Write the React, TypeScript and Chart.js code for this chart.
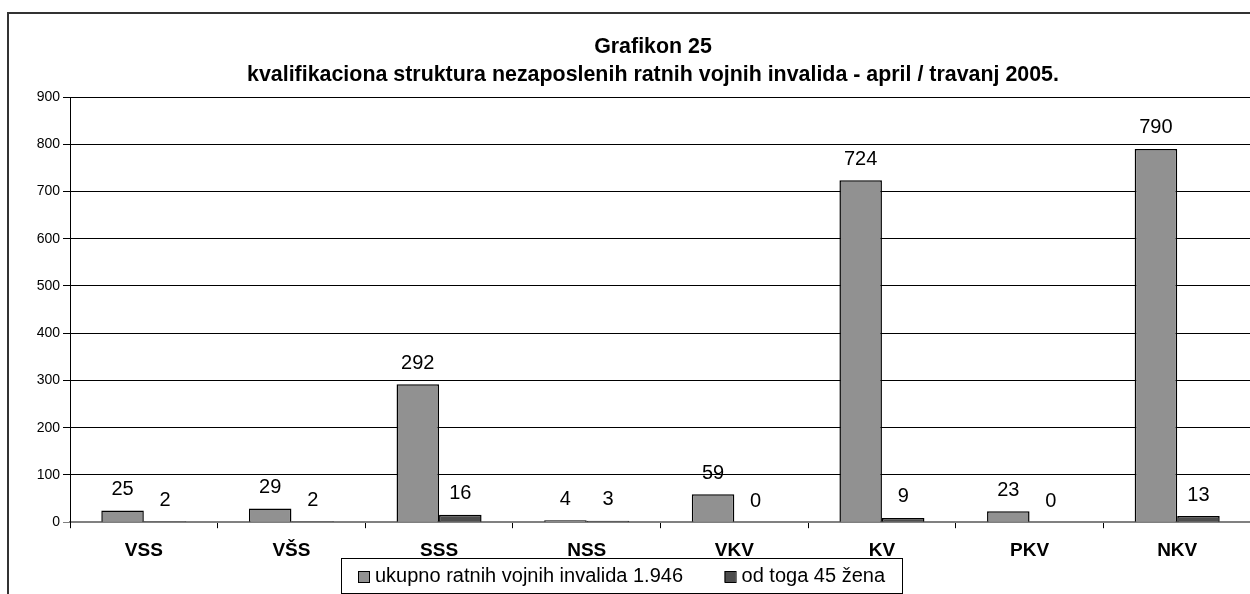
import React, { useEffect, useRef } from 'react';
import { Chart, registerables } from 'chart.js';

Chart.register(...registerables);

const categories = ['VSS', 'VŠS', 'SSS', 'NSS', 'VKV', 'KV', 'PKV', 'NKV'];
const totalValues = [25, 29, 292, 4, 59, 724, 23, 790];
const womenValues = [2, 2, 16, 3, 0, 9, 0, 13];
const seriesLabels = ['ukupno ratnih vojnih invalida 1.946', 'od toga 45 žena'];
const titleLines = [
  'Grafikon 25',
  'kvalifikaciona struktura nezaposlenih ratnih vojnih invalida - april / travanj 2005.',
];
const yMax = 900;
const yStep = 100;

const FONT = 'Arial, "Liberation Sans", sans-serif';
const GREY = '#919191';
const DARK = '#4d4d4d';
const CANVAS_W = 1270;

const titlePlugin = {
  id: 'fixedTitle',
  afterDraw(chart: any) {
    const ctx = chart.ctx;
    ctx.save();
    ctx.font = `bold 21.4px ${FONT}`;
    ctx.fillStyle = '#000';
    ctx.textAlign = 'center';
    ctx.textBaseline = 'middle';
    ctx.fillText(titleLines[0], 653, 47);
    ctx.fillText(titleLines[1], 653, 75);
    ctx.restore();
  },
};

const valueLabelPlugin = {
  id: 'valueLabels',
  afterDatasetsDraw(chart: any) {
    const ctx = chart.ctx;
    ctx.save();
    ctx.font = `20px ${FONT}`;
    ctx.fillStyle = '#000';
    ctx.textAlign = 'center';
    ctx.textBaseline = 'middle';
    chart.data.datasets.forEach((ds: any, di: number) => {
      const meta = chart.getDatasetMeta(di);
      meta.data.forEach((bar: any, i: number) => {
        ctx.fillText(String(ds.data[i]), bar.x, bar.y - 21);
      });
    });
    ctx.restore();
  },
};

const boxLegendPlugin = {
  id: 'boxLegend',
  afterDraw(chart: any) {
    const ctx = chart.ctx;
    const left = 341, top = 558, width = 561, height = 35;
    ctx.save();
    ctx.strokeStyle = '#000';
    ctx.lineWidth = 1;
    ctx.fillStyle = '#fff';
    ctx.fillRect(left + 0.5, top + 0.5, width, height);
    ctx.strokeRect(left + 0.5, top + 0.5, width, height);
    ctx.font = `20px ${FONT}`;
    ctx.textBaseline = 'middle';
    ctx.textAlign = 'left';
    const cy = top + height / 2 + 1;
    const ds = chart.data.datasets;
    const sq = 11;
    const x = 358;
    ctx.fillStyle = ds[0].backgroundColor;
    ctx.fillRect(x, cy - sq / 2, sq, sq);
    ctx.strokeRect(x + 0.5, cy - sq / 2 + 0.5, sq, sq);
    ctx.fillStyle = '#000';
    ctx.fillText(ds[0].label, x + sq + 6, cy);
    const w2 = ctx.measureText(ds[1].label).width;
    const t2 = 885 - w2;
    const s2 = t2 - sq - 6;
    ctx.fillStyle = ds[1].backgroundColor;
    ctx.fillRect(s2, cy - sq / 2, sq, sq);
    ctx.strokeRect(s2 + 0.5, cy - sq / 2 + 0.5, sq, sq);
    ctx.fillStyle = '#000';
    ctx.fillText(ds[1].label, t2, cy);
    ctx.restore();
  },
};

export default function App() {
  const ref = useRef<HTMLCanvasElement | null>(null);

  useEffect(() => {
    if (!ref.current) return;
    const chart = new Chart(ref.current, {
      type: 'bar',
      data: {
        labels: categories,
        datasets: [
          {
            label: seriesLabels[0],
            data: totalValues,
            backgroundColor: GREY,
            borderColor: '#000',
            borderWidth: 1.5,
            categoryPercentage: 0.576,
            barPercentage: 1,
          },
          {
            label: seriesLabels[1],
            data: womenValues,
            backgroundColor: DARK,
            borderColor: '#000',
            borderWidth: 1.5,
            categoryPercentage: 0.576,
            barPercentage: 1,
          },
        ],
      },
      options: {
        responsive: false,
        animation: false,
        devicePixelRatio: 1,
        layout: { padding: { left: 8, right: CANVAS_W - 1251, top: 97, bottom: 21 } },
        plugins: {
          legend: { display: false },
          tooltip: { enabled: false },
          title: { display: false },
        },
        scales: {
          x: {
            offset: true,
            grid: {
              display: true,
              offset: true,
              drawOnChartArea: false,
              drawTicks: true,
              tickLength: 6,
              color: '#000',
            },
            border: { display: true, color: '#808080', width: 1.5 },
            ticks: {
              color: '#000',
              padding: 11,
              font: { family: FONT, size: 19, weight: 'bold' },
              maxRotation: 0,
              autoSkip: false,
            },
          },
          y: {
            min: 0,
            max: yMax,
            afterFit: (scale: any) => {
              scale.width = 62;
            },
            grid: {
              color: (c: any) => (c.tick && c.tick.value === 0 ? '#808080' : '#000'),
              lineWidth: 1,
              drawTicks: true,
              tickLength: 7,
            },
            border: { display: true, color: '#000', width: 1 },
            ticks: {
              stepSize: yStep,
              color: '#000',
              padding: 3,
              font: { family: FONT, size: 14 },
            },
          },
        },
      },
      plugins: [titlePlugin, valueLabelPlugin, boxLegendPlugin],
    });
    return () => chart.destroy();
  }, []);

  return (
    <div
      style={{
        position: 'fixed',
        left: 0,
        top: 0,
        width: 1250,
        height: 594,
        overflow: 'hidden',
        background: '#fff',
      }}
    >
      <canvas
        ref={ref}
        width={CANVAS_W}
        height={594}
        style={{ position: 'absolute', left: 0, top: 0, width: CANVAS_W, height: 594 }}
      />
      <div
        style={{
          position: 'absolute',
          left: 7,
          top: 12,
          width: 1400,
          height: 700,
          borderTop: '2px solid #333',
          borderLeft: '2px solid #333',
          pointerEvents: 'none',
        }}
      />
    </div>
  );
}
